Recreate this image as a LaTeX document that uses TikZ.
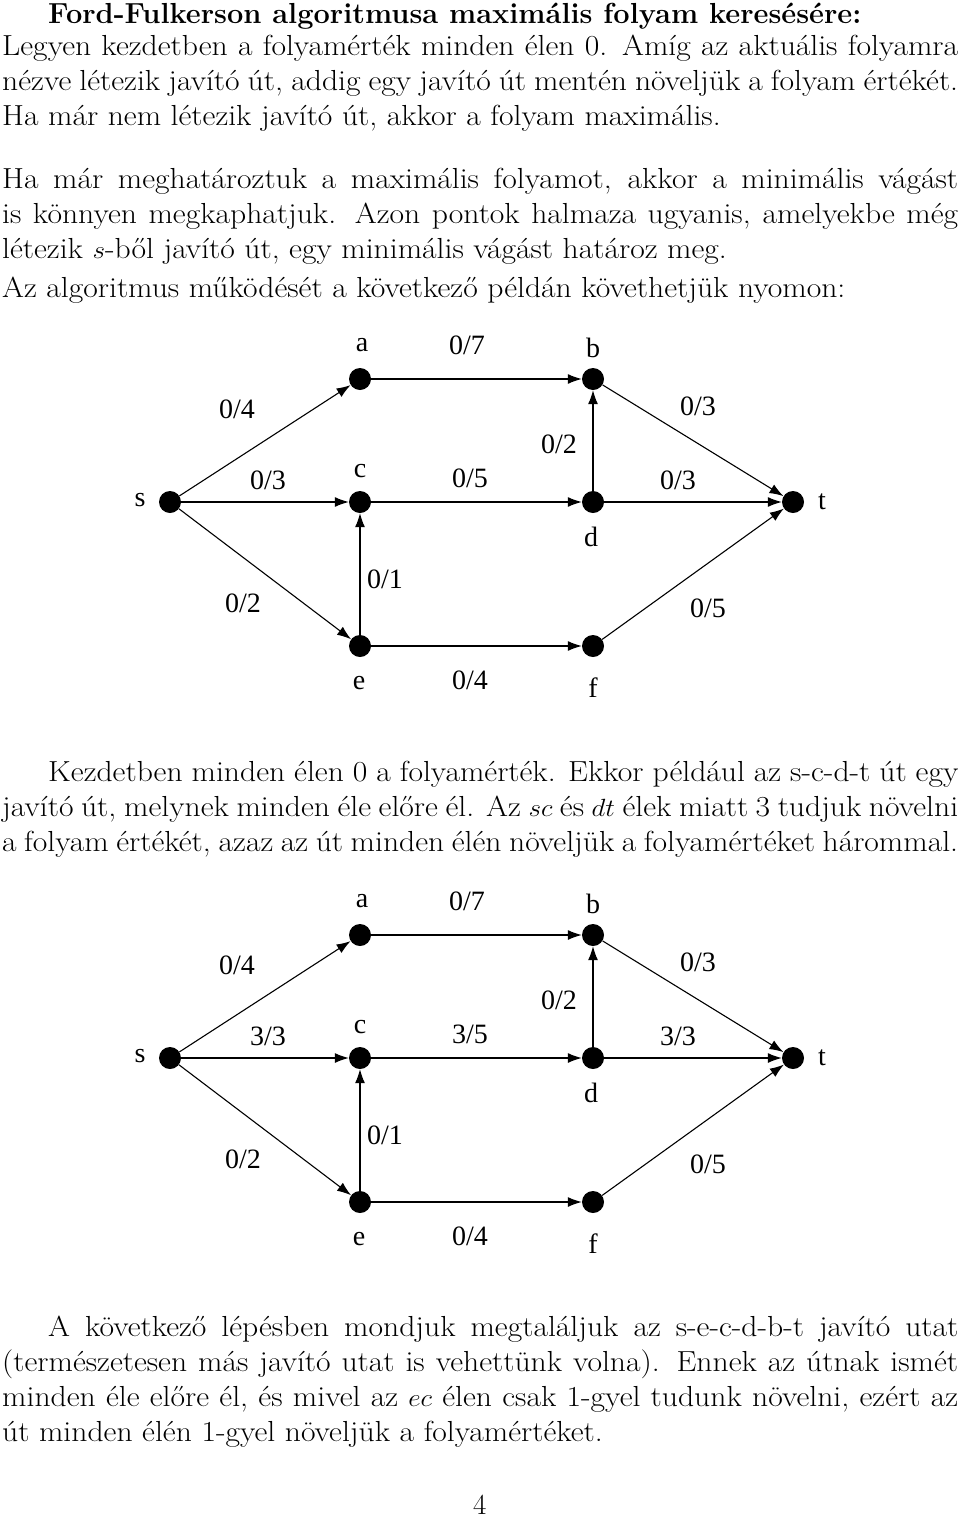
\documentclass[tikz,border=0pt]{standalone}
\usepackage{fontspec}
\usepackage{graphicx}
\newfontfamily\gf{Liberation Serif}
\usetikzlibrary{arrows.meta}
\newcommand{\SX}[1]{\scalebox{1.09}[1]{#1}}
\newcommand{\JL}[1]{\scalebox{1.09}[1]{\makebox[877pt][s]{#1}}}
\newcommand{\JI}[1]{\scalebox{1.09}[1]{\makebox[835pt][s]{#1}}}
\begin{document}
\begin{tikzpicture}[x=1pt,y=-1pt,
  txt/.style={anchor=base west,inner sep=0pt,font=\fontsize{29}{35}\selectfont},
  dot/.style={circle,fill=black,minimum size=22pt,inner sep=0pt},
  lab/.style={font=\gf\fontsize{28}{30}\selectfont,inner sep=0pt},
  ed/.style={line width=1.1pt,-{Latex[length=14pt,width=10pt]}}]
\useasboundingbox (0,0) rectangle (960,1518);
\node[txt] (h) at (48,23) {\bfseries Ford-Fulkerson algoritmusa maximális folyam keresésére:};
\node[txt] (l1) at (2,55) {\JL{Legyen kezdetben a folyamérték minden élen 0. Amíg az aktuális folyamra}};
\node[txt] (l2) at (2,90) {\JL{nézve létezik javító út, addig egy javító út mentén növeljük a folyam értékét.}};
\node[txt] (l3) at (2,125) {\SX{Ha már nem létezik javító út, akkor a folyam maximális.}};
\node[txt] (l4) at (2,188) {\JL{Ha már meghatároztuk a maximális folyamot, akkor a minimális vágást}};
\node[txt] (l5) at (2,223) {\JL{is könnyen megkaphatjuk. Azon pontok halmaza ugyanis, amelyekbe még}};
\node[txt] (l6) at (2,258) {\SX{létezik $s$-ből javító út, egy minimális vágást határoz meg.}};
\node[txt] (l7) at (2,297) {\SX{Az algoritmus működését a következő példán követhetjük nyomon:}};
\node[txt] (k1) at (48,781) {\JI{Kezdetben minden élen 0 a folyamérték. Ekkor például az s-c-d-t út egy}};
\node[txt] (k2) at (2,816) {\JL{javító út, melynek minden éle előre él. Az $sc$ és $dt$ élek miatt 3 tudjuk növelni}};
\node[txt] (k3) at (2,851) {\JL{a folyam értékét, azaz az út minden élén növeljük a folyamértéket hárommal.}};
\node[txt] (m1) at (48,1336) {\JI{A következő lépésben mondjuk megtaláljuk az s-e-c-d-b-t javító utat}};
\node[txt] (m2) at (2,1371) {\JL{(természetesen más javító utat is vehettünk volna). Ennek az útnak ismét}};
\node[txt] (m3) at (2,1406) {\JL{minden éle előre él, és mivel az $ec$ élen csak 1-gyel tudunk növelni, ezért az}};
\node[txt] (m4) at (2,1441) {\SX{út minden élén 1-gyel növeljük a folyamértéket.}};
\node[txt] (pg) at (473,1514) {4};
\foreach \g/\dy/\fa/\fb/\fc in {1/0/0/0/0, 2/556/3/3/3}{
\begin{scope}[shift={(0,\dy)}]
\node[dot] (s\g) at (170,502) {};
\node[dot] (a\g) at (360,379) {};
\node[dot] (b\g) at (593,379) {};
\node[dot] (c\g) at (360,502) {};
\node[dot] (d\g) at (593,502) {};
\node[dot] (t\g) at (793,502) {};
\node[dot] (e\g) at (360,646) {};
\node[dot] (f\g) at (593,646) {};
\draw[ed] (s\g) -- (a\g);
\draw[ed] (s\g) -- (c\g);
\draw[ed] (s\g) -- (e\g);
\draw[ed] (a\g) -- (b\g);
\draw[ed] (c\g) -- (d\g);
\draw[ed] (e\g) -- (c\g);
\draw[ed] (d\g) -- (b\g);
\draw[ed] (e\g) -- (f\g);
\draw[ed] (b\g) -- (t\g);
\draw[ed] (d\g) -- (t\g);
\draw[ed] (f\g) -- (t\g);
\node[lab] (ls\g) at (140,500) {s};
\node[lab] (la\g) at (362,345) {a};
\node[lab] (lb\g) at (593,348) {b};
\node[lab] (lc\g) at (360,471) {c};
\node[lab] (ld\g) at (591,537) {d};
\node[lab] (le\g) at (359,683) {e};
\node[lab] (lf\g) at (593,688) {f};
\node[lab] (lt\g) at (822,502) {t};
\node[lab] (w1\g) at (467,345) {0/7};
\node[lab] (w2\g) at (237,409) {0/4};
\node[lab] (w3\g) at (268,480) {\fa/3};
\node[lab] (w4\g) at (470,478) {\fb/5};
\node[lab] (w5\g) at (559,444) {0/2};
\node[lab] (w6\g) at (698,406) {0/3};
\node[lab] (w7\g) at (678,480) {\fc/3};
\node[lab] (w8\g) at (385,579) {0/1};
\node[lab] (w9\g) at (243,603) {0/2};
\node[lab] (w10\g) at (708,608) {0/5};
\node[lab] (w11\g) at (470,680) {0/4};
\end{scope}}
\end{tikzpicture}
\end{document}
